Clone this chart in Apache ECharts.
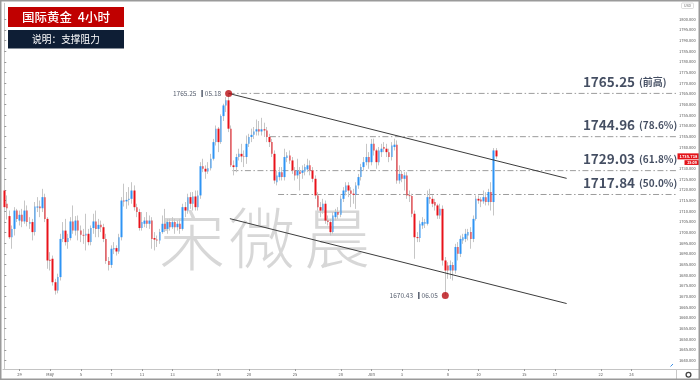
<!DOCTYPE html>
<html><head><meta charset="utf-8">
<script src="https://cdn.jsdelivr.net/npm/echarts@6/dist/echarts.min.js"></script>
<style>html,body{margin:0;padding:0;background:#fff}#c{width:700px;height:380px}</style>
</head><body><div id="c"></div>
<script>
// ---------- data ----------
const N_SLOTS = 264;            // 4h slots on the time axis (incl. future space)
const BARS_PER_DAY = 6;
const FIRST_DAY_SLOT = 6;
const dayLabels = ['29','May','5','7','11','13','18','20','25','28','Jun','3','8','10','15','17','22','24'];
const dayIndex  = [0,2,4,6,8,10,13,15,18,21,23,25,28,30,33,35,38,40]; // trading-day index from Apr 29

const opens = [
1719.7,1713.5,1707.7,1697.8,1701.7,1710.3,1705.6,1708.3,1705.2,1710.3,
1704.1,1704.9,1700.2,1711.7,1712.2,1711.4,1716.6,1706.4,1687.2,1687.7,
1676.7,1672.8,1679.1,1697.0,1700.9,1695.5,1697.4,1705.2,1700.9,1705.6,
1700.9,1698.9,1698.6,1699.4,1695.5,1702.1,1705.2,1701.7,1703.6,1702.5,
1697.0,1686.6,1684.8,1692.0,1692.7,1691.1,1697.8,1715.0,1714.6,1715.3,
1715.8,1719.7,1711.9,1709.6,1702.1,1704.1,1705.6,1704.1,1705.6,1697.4,
1696.7,1696.3,1700.2,1704.1,1701.7,1704.9,1702.5,1704.9,1702.5,1704.1,
1701.7,1711.9,1710.3,1716.6,1713.5,1716.9,1711.9,1717.4,1731.1,1729.9,
1728.6,1730.2,1734.6,1742.4,1748.7,1742.4,1754.6,1759.6,1762.0,1748.7,
1731.5,1730.7,1735.4,1736.9,1735.7,1735.4,1741.6,
1744.8,1745.8,1747.4,1748.4,1747.4,1748.4,1747.9,1744.8,1742.4,1736.9,
1723.6,1726.0,1728.3,1726.0,1734.9,1736.1,1733.8,1729.1,1726.8,1728.6,
1728.0,1728.6,1729.6,1731.5,1729.1,1725.2,
1717.4,1711.9,1710.3,1713.5,1705.6,1704.9,1700.2,1707.2,1709.6,1708.3,
1715.8,1719.0,1722.1,1719.7,1718.2,1717.7,1722.1,1726.0,1730.7,1733.0,
1735.4,1733.0,1741.6,1738.5,1733.0,1737.7,
1740.1,1739.3,1737.7,1735.4,1740.1,1741.2,1724.4,1727.5,1725.2,1726.8,
1717.4,1717.1,1708.8,1697.8,1697.4,1703.3,1704.1,1704.1,1716.6,1715.8,
1714.3,1712.7,1708.0,1711.1,1686.9,1684.5,
1682.2,1684.8,1682.2,1693.2,1690.0,1696.3,1697.0,1698.6,1700.2,1697.0,
1706.4,1715.8,1715.5,1714.6,1716.6,1714.3,1719.0,1714.3,1738.5];

const closes = [
1711.9,1711.4,1697.8,1701.7,1710.3,1706.4,1708.3,1705.2,1710.3,1704.9,
1704.9,1700.2,1712.2,1712.2,1711.4,1716.6,1706.4,1686.9,1686.6,1676.7,
1672.8,1679.1,1697.0,1700.9,1695.5,1697.4,1705.2,1700.9,1705.6,1700.9,
1698.9,1698.6,1699.4,1695.5,1702.1,1705.2,1701.7,1703.6,1702.5,1697.0,
1686.6,1684.8,1692.4,1692.7,1691.1,1697.8,1715.0,1714.6,1715.3,1715.8,
1719.7,1711.9,1709.6,1702.1,1704.9,1705.6,1704.1,1705.6,1697.0,1696.7,
1696.3,1700.2,1704.1,1701.7,1704.9,1702.5,1704.9,1702.5,1704.1,1701.7,
1711.9,1710.3,1716.6,1713.5,1716.9,1711.9,1717.4,1731.1,1729.9,1728.6,
1730.2,1734.6,1742.4,1748.7,1742.4,1754.6,1759.6,1762.0,1748.7,1731.5,
1730.7,1735.4,1736.9,1735.7,1735.4,1741.6,1744.8,
1745.8,1747.4,1748.4,1747.4,1748.4,1747.9,1744.8,1742.4,1736.9,1724.4,
1726.8,1728.3,1726.0,1735.4,1736.1,1733.8,1729.1,1726.8,1729.1,1727.5,
1729.1,1730.7,1731.5,1729.1,1725.2,1717.4,
1711.9,1710.3,1713.5,1705.6,1704.9,1700.2,1708.0,1709.6,1708.3,1715.8,
1719.7,1722.1,1719.7,1718.2,1717.7,1722.1,1726.0,1730.7,1733.0,1735.4,
1733.0,1741.6,1738.5,1733.0,1738.5,1739.3,
1739.3,1737.7,1735.4,1740.8,1741.2,1724.4,1727.5,1725.2,1726.8,1717.4,
1717.1,1708.8,1697.8,1697.4,1704.1,1704.9,1704.9,1716.6,1715.8,1713.5,
1712.7,1708.0,1711.1,1686.9,1682.2,1682.2,
1684.8,1682.2,1693.2,1690.0,1697.0,1697.8,1699.4,1700.2,1697.0,1706.4,
1715.8,1715.0,1714.6,1716.6,1714.3,1719.0,1714.3,1738.5,1735.7];

const highs = [
1722.1,1717.4,1710.3,1703.3,1711.9,1711.1,1710.3,1711.1,1715.0,1712.7,
1707.2,1706.4,1714.3,1716.6,1715.0,1720.5,1718.2,1707.2,1690.8,1689.2,
1678.3,1680.7,1699.4,1704.9,1706.4,1699.4,1707.2,1712.7,1707.7,1708.0,
1703.3,1701.7,1708.8,1701.7,1703.3,1708.8,1710.3,1706.4,1705.6,1704.1,
1699.4,1688.5,1694.0,1695.5,1694.0,1699.4,1716.6,1722.9,1719.0,1721.3,
1723.6,1722.1,1713.5,1711.1,1709.6,1707.2,1709.6,1708.0,1707.2,1700.2,
1698.6,1701.7,1708.0,1711.1,1706.4,1706.4,1707.2,1706.4,1705.6,1706.4,
1713.5,1714.3,1718.2,1718.9,1719.0,1719.7,1719.7,1733.0,1734.6,1731.5,
1733.0,1736.9,1743.9,1750.2,1749.5,1755.4,1760.4,1763.5,1765.25,1750.2,
1733.8,1736.9,1739.3,1741.6,1738.5,1745.5,1746.3,
1748.7,1749.5,1753.0,1752.3,1753.8,1751.5,1749.5,1746.3,1743.9,1738.5,
1729.1,1730.7,1730.7,1739.3,1737.7,1738.5,1735.4,1730.7,1734.6,1730.7,
1731.5,1732.2,1734.6,1733.8,1730.7,1726.8,
1718.9,1714.3,1715.8,1715.0,1708.0,1706.4,1709.6,1711.1,1711.9,1717.4,
1721.3,1723.6,1723.6,1721.3,1720.5,1723.6,1727.5,1732.2,1735.4,1741.6,
1737.7,1743.9,1744.0,1739.3,1740.1,1741.6,
1742.4,1741.6,1739.3,1742.4,1744.0,1743.2,1731.5,1729.1,1728.3,1728.3,
1719.7,1718.2,1710.3,1700.2,1705.6,1707.2,1706.4,1719.7,1720.5,1717.4,
1715.8,1713.5,1713.5,1712.7,1688.5,1686.1,
1686.9,1686.1,1694.7,1695.5,1698.6,1699.4,1701.7,1701.7,1702.5,1708.0,
1717.4,1717.4,1716.6,1719.7,1718.9,1720.5,1723.6,1739.6,1739.6];

const lows = [
1710.3,1706.1,1697.0,1692.4,1698.6,1704.9,1703.3,1702.5,1704.1,1702.9,
1701.7,1696.3,1698.6,1709.6,1707.2,1709.6,1704.9,1683.0,1682.2,1675.1,
1670.9,1671.5,1677.5,1695.5,1693.9,1692.4,1696.3,1699.4,1698.6,1696.3,
1695.5,1694.7,1691.6,1694.0,1694.0,1699.4,1697.8,1697.8,1700.2,1695.5,
1685.3,1682.2,1683.4,1689.9,1689.2,1690.0,1696.3,1712.2,1711.1,1712.7,
1713.5,1710.3,1707.2,1700.9,1700.9,1702.5,1702.1,1701.7,1692.4,1691.6,
1693.2,1694.7,1699.4,1700.2,1699.4,1700.9,1701.7,1699.4,1700.9,1699.4,
1700.9,1707.2,1708.8,1711.1,1710.3,1710.3,1710.3,1715.8,1728.3,1725.2,
1727.5,1729.1,1733.8,1740.8,1737.7,1741.6,1752.3,1756.5,1747.1,1730.7,
1726.8,1728.3,1733.8,1733.0,1730.7,1732.2,1740.1,
1742.4,1743.9,1745.5,1745.5,1745.5,1744.8,1742.4,1740.1,1735.4,1722.9,
1722.1,1724.4,1724.4,1724.4,1733.0,1732.2,1727.5,1724.4,1725.2,1719.7,
1725.2,1726.8,1728.3,1726.8,1723.6,1715.8,
1710.3,1707.2,1708.8,1704.1,1703.3,1698.6,1699.4,1705.6,1706.4,1707.2,
1714.3,1717.4,1716.6,1711.9,1713.5,1711.1,1720.5,1724.4,1729.1,1731.5,
1729.9,1731.5,1736.1,1729.9,1731.5,1735.4,
1737.7,1735.4,1733.0,1733.8,1738.5,1722.9,1722.9,1723.6,1719.7,1715.8,
1714.3,1707.2,1687.7,1695.5,1695.5,1701.7,1702.1,1703.3,1713.5,1711.9,
1710.3,1706.4,1706.4,1684.5,1670.43,1678.3,
1678.3,1677.5,1680.7,1686.9,1688.5,1694.7,1695.5,1696.3,1692.4,1695.5,
1705.6,1713.5,1711.9,1713.5,1712.7,1712.7,1710.3,1708.0,1734.6];

const yTicks = [1640,1645,1650,1655,1660,1665,1670,1675,1680,1685,1690,1695,1700,1705,1710,1715,
  1720,1725,1730,1735,1740,1745,1750,1755,1760,1765,1770,1775,1780,1785,1790,1795,1800];

const levels     = [1765.25, 1744.96, 1729.03, 1717.84];
const levelNotes = ['(前高)', '(78.6%)', '(61.8%)', '(50.0%)'];
const levelFrom  = [88, 104.2, 89.5, 107.4];   // slot where each dashed level starts
const levelTextSlot = 227;

const pivotSlots  = [88, 173];
const pivotValues = [1765.25, 1670.43];
const pivotDates  = ['05.18', '06.05'];

const upperTrend = [[88, 1765.25], [220.6, 1725.4]];
const lowerTrend = [[88.5, 1706.5], [220.6, 1666.7]];

const lastPrice = 1735.718;
const countdown = '25:09';

// ---------- build ----------
const categories = new Array(N_SLOTS).fill('');
dayIndex.forEach((d, i) => { categories[FIRST_DAY_SLOT + d * BARS_PER_DAY] = dayLabels[i]; });

const wickData = opens.map((o, i) => { const m = (o + closes[i]) / 2; return [m, m, lows[i], highs[i]]; });
const bodyData = opens.map((o, i) => [o, closes[i], Math.min(o, closes[i]), Math.max(o, closes[i])]);

const FONT = '"Noto Sans CJK SC","Noto Sans",sans-serif';
const showLbl = (idx, val) => val !== '';

const chart = echarts.init(document.getElementById('c'), null, {renderer: 'canvas'});
const levelSeries = levels.map((lv, i) => ({
  type: 'line', xAxisIndex: 1, yAxisIndex: 0, silent: true, symbol: 'none', z: 1,
  data: [[levelFrom[i], lv], [N_SLOTS - 0.5, lv]],
  lineStyle: {color: '#9c9c9c', width: 1, type: [6, 2.5, 1.5, 2.5]}
}));

const option = {
  animation: false,
  backgroundColor: '#ffffff',
  grid: {left: 3, right: 24, top: 3.3, bottom: 11, containLabel: false},
  xAxis: [{
    type: 'category', data: categories, boundaryGap: true,
    axisLine: {show: true, lineStyle: {color: '#c4c4c4'}},
    axisTick: {show: true, interval: showLbl, alignWithLabel: true, length: 2, lineStyle: {color: '#999'}},
    axisLabel: {interval: showLbl, fontSize: 4, color: '#555', margin: 3, fontFamily: FONT},
    splitLine: {show: false}
  }, {
    type: 'value', min: -0.5, max: N_SLOTS - 0.5, show: false
  }],
  yAxis: [{
    type: 'value', position: 'right', min: 1636, max: 1807.5,
    axisLine: {show: true, lineStyle: {color: '#c8c8c8'}},
    axisTick: {show: true, length: 2, customValues: yTicks, lineStyle: {color: '#999'}},
    axisLabel: {customValues: yTicks, formatter: v => v.toFixed(3), fontSize: 4, color: '#555', margin: 3, fontFamily: FONT},
    splitLine: {show: false}
  }],
  series: [
    ...levelSeries,
    {type: 'line', xAxisIndex: 1, silent: true, symbol: 'none', z: 4, data: upperTrend,
     lineStyle: {color: '#3c3c3c', width: 1}},
    {type: 'line', xAxisIndex: 1, silent: true, symbol: 'none', z: 4, data: lowerTrend,
     lineStyle: {color: '#3c3c3c', width: 1}},
    {type: 'candlestick', xAxisIndex: 0, data: wickData, barWidth: 1, z: 2, silent: true,
     itemStyle: {color: '#c6c6c6', color0: '#c6c6c6', borderColor: '#c6c6c6', borderColor0: '#c6c6c6', borderWidth: 1}},
    {type: 'candlestick', xAxisIndex: 0, data: bodyData, barWidth: 2, z: 3, silent: true,
     itemStyle: {color: '#2f94f4', color0: '#e8121a', borderColor: '#2f94f4', borderColor0: '#e8121a', borderWidth: 0}},
    {type: 'scatter', xAxisIndex: 1, silent: true, z: 5, symbolSize: 7,
     itemStyle: {color: '#b80d12'},
     data: pivotSlots.map((s, i) => [s, pivotValues[i], pivotDates[i]]),
     label: {show: true, position: 'left', distance: 4,
       formatter: p => '{v|' + p.value[1].toFixed(2) + '}{bar|}{d|' + p.value[2] + '}',
       rich: {
         v: {fontSize: 6.5, color: '#2b3448', fontFamily: FONT, padding: [0, 5, 0, 0]},
         bar: {width: 1.5, height: 7, backgroundColor: '#2b3448'},
         d: {fontSize: 6.5, color: '#2b3448', fontFamily: FONT, padding: [0, 0, 0, 2]}
       }}},
    {type: 'scatter', xAxisIndex: 1, silent: true, z: 5, symbolSize: 0.1,
     itemStyle: {color: 'rgba(0,0,0,0)'},
     data: levels.map((lv, i) => [levelTextSlot, lv, levelNotes[i]]),
     label: {show: true, position: [0, -11.5], align: 'left', verticalAlign: 'middle',
       formatter: p => '{n|' + p.value[1].toFixed(2) + '}{p|' + p.value[2] + '}',
       rich: {
         n: {fontSize: 13.5, fontWeight: 'bold', color: '#15223b', fontFamily: FONT, padding: [0, 4, 0, 0]},
         p: {fontSize: 10, fontWeight: 'bold', color: '#15223b', fontFamily: FONT}
       }}}
  ]
};
chart.setOption(option);

// decorations (title boxes, watermark, frame, price tag)
const tagY = chart.convertToPixel({yAxisIndex: 0}, lastPrice);
const WM = 'rgba(175,175,175,0.5)';
chart.setOption({
  graphic: [
    {type: 'text', z: 0, style: {text: '宋', x: 192, y: 240, fill: WM, font: '300 66px ' + FONT, align: 'center', verticalAlign: 'middle'}},
    {type: 'text', z: 0, style: {text: '微', x: 262, y: 238, fill: WM, font: '300 66px ' + FONT, align: 'center', verticalAlign: 'middle'}},
    {type: 'text', z: 0, style: {text: '晨', x: 337, y: 238, fill: WM, font: '300 66px ' + FONT, align: 'center', verticalAlign: 'middle'}},
    {type: 'rect', z: 10, shape: {x: 8, y: 7, width: 116, height: 20}, style: {fill: '#c00000'}},
    {type: 'text', z: 11, style: {text: '国际黄金  4小时', x: 66, y: 17.2, fill: '#ffffff', font: '500 12.5px ' + FONT, align: 'center', verticalAlign: 'middle'}},
    {type: 'rect', z: 10, shape: {x: 8, y: 30, width: 116, height: 18.5}, style: {fill: '#0e1e35'}},
    {type: 'text', z: 11, style: {text: '说明：支撑阻力', x: 66, y: 39.5, fill: '#ffffff', font: '9.7px ' + FONT, align: 'center', verticalAlign: 'middle'}},
    {type: 'rect', z: 10, shape: {x: 681.5, y: 3, width: 12, height: 5.5, r: 1}, style: {fill: '#fff', stroke: '#c8c8c8', lineWidth: 0.6}},
    {type: 'text', z: 11, style: {text: 'USD', x: 687.5, y: 5.8, fill: '#666', font: '3.6px ' + FONT, align: 'center', verticalAlign: 'middle'}},
    {type: 'rect', z: 12, shape: {x: 677.5, y: tagY - 3, width: 22, height: 6}, style: {fill: '#e31319'}},
    {type: 'text', z: 13, style: {text: lastPrice.toFixed(3), x: 688.5, y: tagY, fill: '#fff', font: 'bold 4px ' + FONT, align: 'center', verticalAlign: 'middle'}},
    {type: 'rect', z: 12, shape: {x: 684.5, y: tagY + 3.8, width: 15, height: 4.8}, style: {fill: '#e31319'}},
    {type: 'text', z: 13, style: {text: countdown, x: 692, y: tagY + 6.2, fill: '#fff', font: 'bold 3.6px ' + FONT, align: 'center', verticalAlign: 'middle'}},
    {type: 'line', z: 10, shape: {x1: 676.5, y1: 369, x2: 676.5, y2: 380}, style: {stroke: '#c8c8c8', lineWidth: 1}},
    {type: 'line', z: 10, shape: {x1: 676, y1: 369.5, x2: 700, y2: 369.5}, style: {stroke: '#c8c8c8', lineWidth: 1}},
    {type: 'circle', z: 10, shape: {cx: 688.5, cy: 374.8, r: 2.4}, style: {fill: 'none', stroke: '#444', lineWidth: 1.3}},
    {type: 'line', z: 10, shape: {x1: 670.5, y1: 366.5, x2: 673, y2: 364}, style: {stroke: '#3a8ee6', lineWidth: 1}},
    {type: 'rect', z: 20, shape: {x: 0.75, y: 0.75, width: 698.5, height: 378.5}, style: {fill: 'none', stroke: '#9a9a9a', lineWidth: 1.5}}
  ]
});
</script>
</body></html>
